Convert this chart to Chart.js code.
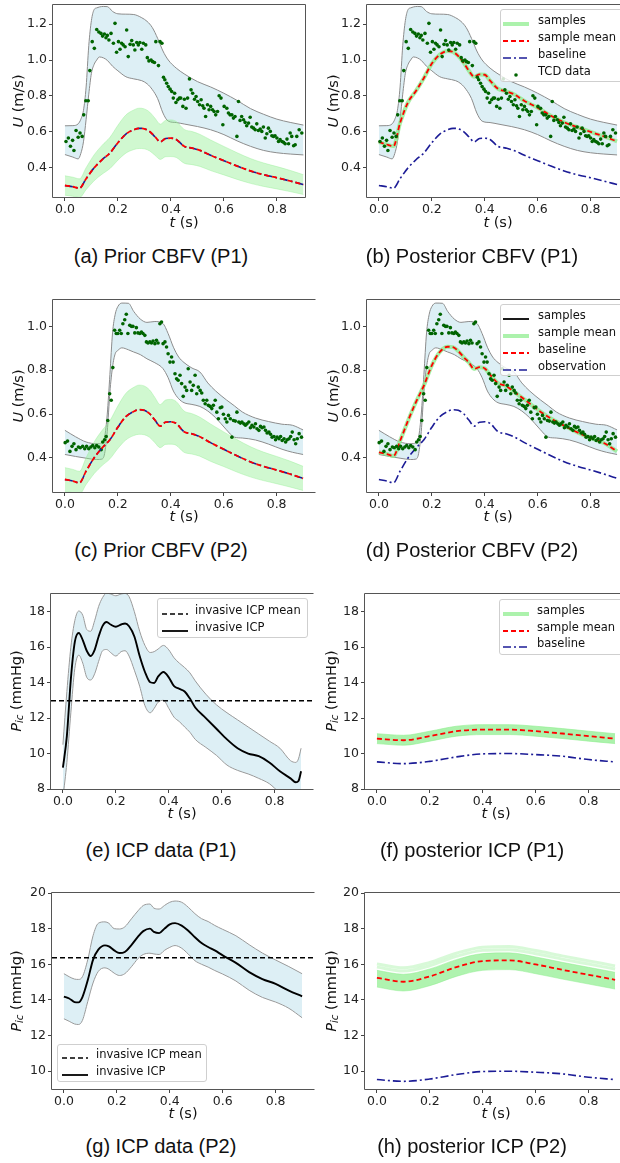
<!DOCTYPE html>
<html><head><meta charset="utf-8">
<script src="https://cdn.jsdelivr.net/npm/chart.js@4.4.1/dist/chart.umd.min.js"></script>
<style>
html,body{margin:0;padding:0;width:620px;height:1163px;overflow:hidden;background:#fff;}
canvas{position:absolute;}
.lab{position:absolute;font-family:"DejaVu Sans";font-size:14.5px;color:#111;white-space:nowrap;line-height:17px;}
.ylab{transform:translate(-50%,-50%) rotate(-90deg);}
.xlab{transform:translate(-50%,-50%);}
.cap{position:absolute;font-family:"Liberation Sans",Arial,sans-serif;font-size:20px;color:#111;white-space:nowrap;transform:translate(-50%,-50%);}
.leg{position:absolute;border:1px solid #cfcfcf;border-radius:3px;background:rgba(255,255,255,0.82);box-sizing:border-box;}
.lt{position:absolute;font-family:"DejaVu Sans";font-size:11.5px;color:#111;white-space:nowrap;line-height:14px;height:14px;}
.ls{position:absolute;}
sub{font-size:70%;vertical-align:-0.25em;}
</style></head><body>
<script>
// ---------------- DATA ----------------
const X_TICKS = [0, 0.2, 0.4, 0.6, 0.8];
const Y_TICKS_U1 = [0.4, 0.6, 0.8, 1.0, 1.2];
const Y_TICKS_U2 = [0.4, 0.6, 0.8, 1.0];
const Y_TICKS_P1 = [8, 10, 12, 14, 16, 18];
const Y_TICKS_P2 = [10, 12, 14, 16, 18, 20];

// CBFV curves (t in s, U in m/s)
const T_U = [0, 0.03, 0.055, 0.08, 0.11, 0.14, 0.17, 0.2, 0.23, 0.26, 0.28, 0.3, 0.32, 0.34, 0.36, 0.38, 0.4, 0.42, 0.45, 0.48, 0.51, 0.55, 0.6, 0.65, 0.7, 0.75, 0.8, 0.85, 0.9];
const BASE_U = [0.302,0.295,0.287,0.34,0.40,0.445,0.483,0.54,0.588,0.612,0.62,0.617,0.602,0.573,0.545,0.563,0.565,0.558,0.52,0.51,0.497,0.47,0.44,0.41,0.383,0.362,0.345,0.327,0.307];
const PRIOR_HI = [0.356,0.348,0.339,0.401,0.472,0.525,0.570,0.637,0.694,0.722,0.732,0.728,0.710,0.676,0.643,0.664,0.667,0.658,0.614,0.602,0.586,0.555,0.519,0.484,0.452,0.427,0.407,0.386,0.362];
const PRIOR_LO = [0.248,0.242,0.235,0.279,0.328,0.365,0.396,0.443,0.482,0.502,0.508,0.506,0.494,0.470,0.447,0.462,0.463,0.458,0.426,0.418,0.408,0.385,0.361,0.336,0.314,0.297,0.283,0.268,0.252];
const POST1_U = [0.544,0.530,0.521,0.65,0.765,0.828,0.90,0.98,1.03,1.05,1.045,1.022,0.985,0.94,0.907,0.92,0.918,0.885,0.84,0.826,0.81,0.772,0.735,0.69,0.654,0.626,0.6,0.575,0.547];
const POST2_U = [0.426,0.418,0.409,0.478,0.57,0.655,0.73,0.822,0.883,0.907,0.905,0.887,0.86,0.835,0.806,0.814,0.808,0.78,0.741,0.728,0.703,0.667,0.62,0.58,0.547,0.517,0.491,0.468,0.43];

// TCD data bands
const T_B1 = [0,0.03,0.05,0.06,0.07,0.08,0.09,0.1,0.11,0.12,0.13,0.145,0.16,0.18,0.2,0.23,0.26,0.29,0.31,0.33,0.35,0.37,0.39,0.42,0.45,0.5,0.55,0.6,0.65,0.7,0.75,0.8,0.85,0.9];
const B1_HI = [0.634,0.635,0.645,0.67,0.72,0.85,1.08,1.22,1.28,1.29,1.295,1.298,1.297,1.27,1.257,1.255,1.253,1.235,1.215,1.18,1.12,1.05,1.0,0.955,0.923,0.88,0.85,0.815,0.775,0.73,0.698,0.671,0.653,0.638];
const B1_LO = [0.474,0.46,0.45,0.48,0.545,0.67,0.81,0.926,0.975,1.0,1.017,1.012,0.998,0.965,0.94,0.907,0.895,0.885,0.868,0.835,0.785,0.705,0.66,0.652,0.644,0.63,0.612,0.585,0.55,0.52,0.497,0.484,0.477,0.472];
const T_B2 = [0,0.04,0.08,0.12,0.14,0.15,0.16,0.17,0.18,0.19,0.2,0.215,0.24,0.26,0.285,0.31,0.34,0.37,0.39,0.41,0.43,0.45,0.48,0.51,0.54,0.57,0.61,0.64,0.67,0.72,0.77,0.82,0.86,0.9];
const B2_HI = [0.526,0.497,0.473,0.465,0.47,0.495,0.6,0.78,0.97,1.055,1.09,1.106,1.105,1.068,1.033,1.018,1.022,1.013,0.967,0.905,0.86,0.835,0.81,0.792,0.742,0.705,0.665,0.638,0.61,0.582,0.566,0.554,0.549,0.528];
const B2_LO = [0.416,0.407,0.399,0.393,0.395,0.42,0.52,0.70,0.815,0.875,0.89,0.902,0.893,0.883,0.871,0.852,0.834,0.808,0.766,0.705,0.67,0.652,0.644,0.635,0.614,0.583,0.529,0.495,0.491,0.482,0.463,0.44,0.426,0.416];

// TCD measurements
const TCD1_T = [0.004,0.013,0.021,0.029,0.034,0.042,0.050,0.057,0.065,0.071,0.079,0.088,0.094,0.103,0.111,0.120,0.128,0.136,0.142,0.149,0.155,0.160,0.166,0.174,0.183,0.189,0.195,0.202,0.208,0.214,0.220,0.227,0.233,0.239,0.246,0.252,0.258,0.264,0.271,0.277,0.283,0.290,0.296,0.305,0.311,0.317,0.325,0.331,0.338,0.343,0.353,0.359,0.366,0.372,0.377,0.384,0.390,0.397,0.403,0.409,0.414,0.419,0.426,0.432,0.437,0.445,0.451,0.457,0.463,0.470,0.476,0.482,0.489,0.495,0.501,0.508,0.514,0.520,0.525,0.531,0.538,0.544,0.550,0.557,0.563,0.569,0.576,0.582,0.589,0.596,0.601,0.611,0.617,0.623,0.630,0.636,0.642,0.649,0.655,0.661,0.667,0.674,0.680,0.686,0.693,0.699,0.705,0.712,0.718,0.724,0.730,0.737,0.743,0.749,0.756,0.762,0.768,0.775,0.781,0.787,0.793,0.800,0.806,0.812,0.819,0.825,0.831,0.838,0.844,0.850,0.856,0.863,0.869,0.875,0.884,0.894];
const TCD1_U = [0.547,0.566,0.520,0.553,0.497,0.608,0.570,0.594,0.575,0.695,0.773,0.773,0.941,1.102,1.065,1.170,1.156,1.148,1.133,1.145,1.124,1.137,1.111,1.148,1.093,1.204,1.043,1.102,1.060,1.093,1.084,1.074,1.167,1.019,1.087,1.108,1.084,1.056,1.097,1.084,1.097,1.060,1.093,1.084,1.013,0.995,1.000,0.991,0.986,1.102,0.969,1.102,1.093,0.904,0.890,0.871,0.852,0.838,0.825,0.788,0.815,0.764,0.779,0.788,0.788,0.742,0.782,0.732,0.788,0.895,0.834,0.815,0.782,0.797,0.769,0.751,0.779,0.745,0.732,0.686,0.751,0.723,0.742,0.723,0.714,0.695,0.714,0.801,0.788,0.640,0.742,0.732,0.705,0.695,0.695,0.677,0.686,0.575,0.769,0.664,0.686,0.668,0.653,0.634,0.649,0.682,0.627,0.621,0.612,0.645,0.608,0.616,0.603,0.627,0.566,0.590,0.621,0.603,0.579,0.575,0.579,0.566,0.547,0.557,0.547,0.542,0.534,0.560,0.534,0.594,0.575,0.523,0.529,0.575,0.612,0.594];
const TCD2_T = [0.001,0.010,0.019,0.027,0.034,0.042,0.051,0.058,0.067,0.075,0.082,0.090,0.098,0.105,0.113,0.120,0.128,0.137,0.143,0.150,0.156,0.162,0.169,0.175,0.181,0.188,0.194,0.200,0.207,0.213,0.219,0.226,0.232,0.238,0.245,0.251,0.257,0.264,0.270,0.276,0.283,0.289,0.295,0.302,0.308,0.314,0.321,0.327,0.333,0.340,0.346,0.352,0.359,0.365,0.371,0.378,0.384,0.390,0.397,0.403,0.409,0.416,0.422,0.428,0.435,0.441,0.447,0.454,0.460,0.466,0.473,0.479,0.485,0.492,0.498,0.504,0.511,0.517,0.523,0.530,0.536,0.542,0.549,0.555,0.561,0.568,0.574,0.580,0.587,0.593,0.599,0.606,0.612,0.618,0.625,0.631,0.637,0.644,0.650,0.657,0.663,0.669,0.676,0.682,0.688,0.695,0.701,0.707,0.714,0.720,0.726,0.733,0.739,0.745,0.752,0.758,0.764,0.771,0.777,0.783,0.790,0.796,0.802,0.809,0.815,0.821,0.828,0.834,0.840,0.847,0.853,0.859,0.866,0.872,0.878,0.885,0.894];
const TCD2_U = [0.470,0.477,0.430,0.453,0.465,0.438,0.450,0.447,0.453,0.442,0.453,0.442,0.450,0.457,0.447,0.457,0.450,0.438,0.473,0.483,0.498,0.571,0.693,0.663,0.812,0.982,0.967,0.967,0.982,0.967,1.012,1.030,1.055,0.967,1.005,1.000,1.000,0.970,0.994,0.970,0.967,0.974,0.967,0.959,0.929,0.924,0.929,0.924,0.933,0.921,0.936,0.924,1.012,1.020,0.921,0.929,0.906,0.875,0.837,0.860,0.837,0.784,0.761,0.754,0.777,0.739,0.681,0.723,0.708,0.807,0.746,0.708,0.731,0.777,0.693,0.723,0.708,0.696,0.663,0.647,0.663,0.640,0.635,0.625,0.640,0.663,0.609,0.579,0.629,0.632,0.599,0.579,0.564,0.594,0.579,0.495,0.571,0.568,0.609,0.564,0.559,0.564,0.556,0.549,0.556,0.564,0.538,0.549,0.541,0.556,0.533,0.526,0.544,0.538,0.541,0.526,0.514,0.518,0.508,0.495,0.498,0.483,0.495,0.488,0.498,0.480,0.488,0.473,0.483,0.488,0.498,0.518,0.483,0.465,0.488,0.511,0.495];

// Invasive ICP (mmHg)
const T_P1 = [0,0.015,0.03,0.045,0.06,0.075,0.09,0.105,0.12,0.135,0.15,0.165,0.18,0.2,0.22,0.235,0.25,0.27,0.29,0.31,0.33,0.345,0.36,0.38,0.4,0.42,0.44,0.46,0.48,0.5,0.54,0.58,0.62,0.66,0.7,0.74,0.78,0.82,0.86,0.88,0.89,0.9];
const ICP1 = [9.2,11.0,14.2,16.3,16.8,16.4,15.8,15.5,15.85,16.6,17.2,17.42,17.28,17.15,17.28,17.34,17.18,16.6,15.5,14.6,14.02,13.98,14.35,14.6,14.3,13.8,13.65,13.5,13.1,12.6,12.0,11.4,10.8,10.3,10.0,9.85,9.5,9.0,8.6,8.38,8.45,9.0];
const ICP1_HI = [10.5,13.5,16.0,17.5,18.04,17.8,17.0,16.9,17.5,18.3,18.8,19.05,19.0,18.9,19.0,19.03,18.85,18.0,16.9,16.1,15.7,15.75,15.9,16.1,15.85,15.4,15.1,14.85,14.55,14.1,13.35,12.75,12.3,11.9,11.5,11.1,10.7,10.3,9.6,9.5,9.7,10.3];
const ICP1_LO = [7.5,9.5,12.3,14.8,15.55,15.1,14.3,14.15,14.5,15.2,15.8,15.87,15.7,15.5,15.75,15.8,15.5,14.7,13.8,12.7,12.3,12.55,12.9,13.0,12.55,12.05,11.8,11.5,11.2,10.8,10.35,9.9,9.35,9.05,8.85,8.6,8.3,7.8,7.6,7.5,7.5,7.5];
const ICP1_MEAN = 12.98;
const T_P2 = [0,0.02,0.04,0.055,0.07,0.09,0.11,0.13,0.155,0.17,0.19,0.21,0.23,0.255,0.28,0.3,0.325,0.34,0.36,0.38,0.4,0.42,0.445,0.47,0.495,0.52,0.545,0.57,0.6,0.65,0.7,0.75,0.8,0.85,0.9];
const ICP2 = [14.19,14.08,13.88,13.86,14.16,15.1,16.25,16.82,17.06,17.0,16.78,16.63,16.69,17.08,17.55,17.86,18.0,17.82,17.75,18.0,18.24,18.31,18.17,17.88,17.52,17.19,16.97,16.78,16.5,16.08,15.56,15.17,14.9,14.52,14.2];
const ICP2_HI = [15.47,15.3,15.17,15.15,15.3,16.25,17.6,18.3,18.38,18.3,18.0,17.98,18.1,18.55,19.0,19.3,19.38,19.15,19.1,19.3,19.48,19.55,19.48,19.2,18.84,18.56,18.4,18.18,17.96,17.6,17.1,16.63,16.24,15.87,15.47];
const ICP2_LO = [12.94,12.8,12.65,12.62,12.85,13.9,14.95,15.6,15.8,15.72,15.5,15.37,15.47,15.86,16.32,16.55,16.62,16.58,16.55,16.78,16.95,17.05,16.9,16.57,16.2,16.0,15.84,15.65,15.45,15.06,14.54,14.14,13.88,13.53,13.0];
const ICP2_MEAN = 16.36;

// Posterior ICP
const T_F = [0,0.1,0.2,0.3,0.4,0.5,0.6,0.7,0.8,0.9];
const BASE_P = [9.53,9.43,9.56,9.81,9.98,10.0,9.94,9.85,9.66,9.53];
const PIC1_MEAN = [10.84,10.75,10.98,11.26,11.35,11.35,11.26,11.13,10.98,10.84];
const PIC1_HI = [11.12,11.03,11.26,11.54,11.63,11.63,11.54,11.41,11.26,11.12];
const PIC1_LO = [10.56,10.47,10.70,10.98,11.07,11.07,10.98,10.85,10.70,10.56];
const PIC2_MEAN = [15.24,15.02,15.32,15.84,16.18,16.22,15.99,15.69,15.41,15.13];
const PIC2_HI = [15.66,15.44,15.74,16.26,16.6,16.64,16.41,16.11,15.83,15.55];
const PIC2_LO = [14.72,14.5,14.8,15.32,15.66,15.7,15.47,15.17,14.89,14.61];
const PIC2_SA = [16.02,15.8,16.1,16.62,16.96,17.0,16.77,16.47,16.19,15.91];
const PIC2_SB = [15.84,15.62,15.92,16.44,16.78,16.82,16.59,16.29,16.01,15.73];

// ---------------- STYLE ----------------
const BLUE = '#1c1c96', RED = '#ff0000', DG = '#006400';
const EDGE = '#8c8c8c', BAND = 'rgba(173,216,230,0.42)';
const LG = 'rgba(144,238,144,0.8)', LGF = 'rgba(144,238,144,0.42)';
const DASH = [5, 3], DASHDOT = [8, 3, 2, 3];
const XMIN = -0.045, XMAX = 0.945;

const P = (T, V) => T.map((t, i) => ({x: t, y: V[i]}));
const L = (T, V, o) => Object.assign({data: P(T, V), pointRadius: 0, borderWidth: 1.5, fill: false, cubicInterpolationMode: 'monotone'}, o);
const DOTS = (T, V, ord) => ({data: P(T, V), showLine: false, pointRadius: 1.8, pointBackgroundColor: DG, pointBorderWidth: 0, order: ord});
const bandPair = (T, LO, HI, edge, fillc, ord) => [
  L(T, LO, {borderColor: edge, borderWidth: 1, order: ord}),
  L(T, HI, {borderColor: edge, borderWidth: 1, fill: '-1', backgroundColor: fillc, order: ord})
];
const hline = (v) => ({data: [{x: XMIN, y: v}, {x: XMAX, y: v}], pointRadius: 0, borderColor: '#000', borderWidth: 1.5, borderDash: DASH, order: 2});

const spinePlugin = (right) => ({
  id: 'spines',
  afterDatasetsDraw(chart) {
    const {ctx, chartArea: a} = chart;
    ctx.save();
    ctx.strokeStyle = '#555'; ctx.lineWidth = 1;
    ctx.beginPath();
    ctx.moveTo(a.left - 0.5, a.bottom + 0.5); ctx.lineTo(a.left - 0.5, a.top - 0.5); ctx.lineTo(a.right + 0.5, a.top - 0.5);
    if (right) ctx.lineTo(a.right + 0.5, a.bottom + 0.5); else ctx.moveTo(a.right + 0.5, a.bottom + 0.5);
    ctx.lineTo(a.left - 0.5, a.bottom + 0.5);
    ctx.stroke();
    ctx.restore();
  }
});

function panel(p) {
  const PADT = 12, PADR = 12, XH = 32;
  const cv = document.createElement('canvas');
  const cl = p.col, ct = p.top - PADT;
  const w = p.right + PADR - cl, h = p.bottom + XH - ct;
  cv.width = w; cv.height = h;
  cv.style.left = cl + 'px'; cv.style.top = ct + 'px'; cv.style.width = w + 'px'; cv.style.height = h + 'px';
  document.body.appendChild(cv);
  const tickFont = {family: 'DejaVu Sans', size: 12.5};
  const grid = {display: true, drawOnChartArea: false, drawTicks: true, tickLength: 4, color: '#444', lineWidth: 1};
  new Chart(cv.getContext('2d'), {
    type: 'line',
    data: {datasets: p.datasets},
    options: {
      responsive: false, animation: false, devicePixelRatio: 1, events: [],
      layout: {padding: {left: 0, top: PADT, right: PADR, bottom: 0}},
      plugins: {legend: {display: false}, tooltip: {enabled: false}},
      scales: {
        x: {type: 'linear', min: p.xmin, max: p.xmax,
            afterFit: s => { s.height = XH; },
            afterBuildTicks: s => { s.ticks = X_TICKS.map(v => ({value: v})); },
            ticks: {callback: v => v.toFixed(1), font: tickFont, color: '#222', padding: 1, maxRotation: 0, autoSkip: false},
            grid: grid, border: {display: false}},
        y: {type: 'linear', min: p.ymin, max: p.ymax,
            afterFit: s => { s.width = p.left - cl; },
            afterBuildTicks: s => { s.ticks = p.yticks.map(v => ({value: v})); },
            ticks: {callback: p.yfmt, font: tickFont, color: '#222', padding: 2, autoSkip: false},
            grid: grid, border: {display: false}}
      }
    },
    plugins: [spinePlugin(!!p.rightSpine)]
  });
}

function html(s) { document.body.insertAdjacentHTML('beforeend', s); }
function svgSample(kind) {
  const W = 26;
  const ln = (c, w, d) => `<svg width="${W}" height="10"><line x1="0" y1="5" x2="${W}" y2="5" stroke="${c}" stroke-width="${w}" ${d ? `stroke-dasharray="${d}"` : ''}/></svg>`;
  if (kind === 'lg') return ln('rgba(144,238,144,0.75)', 4);
  if (kind === 'rd') return ln(RED, 1.8, '5,3');
  if (kind === 'bd') return ln(BLUE, 1.6, '8,3,2,3');
  if (kind === 'k') return ln('#000', 1.8);
  if (kind === 'kd') return ln('#000', 1.5, '5,3');
  return `<svg width="${W}" height="10"><circle cx="${W/2}" cy="5" r="1.8" fill="${DG}"/></svg>`;
}
function legend(box, x0, tx, rows) {
  html(`<div class="leg" style="left:${box[0]}px;top:${box[1]}px;width:${box[2]}px;height:${box[3]}px"></div>`);
  rows.forEach(([y, kind, label]) => {
    html(`<div class="ls" style="left:${x0}px;top:${y - 5}px">${svgSample(kind)}</div>`);
    html(`<div class="lt" style="left:${tx}px;top:${y - 7.5}px">${label}</div>`);
  });
}

const f1 = v => v.toFixed(1), f0 = v => String(v);
const ROW = [{top: 5, bottom: 197, ymin: 0.238, ymax: 1.306, yt: Y_TICKS_U1, fmt: f1},
             {top: 300, bottom: 492, ymin: 0.245, ymax: 1.12, yt: Y_TICKS_U2, fmt: f1},
             {top: 594, bottom: 789, ymin: 8, ymax: 19, yt: Y_TICKS_P1, fmt: f0},
             {top: 893, bottom: 1089, ymin: 9, ymax: 20, yt: Y_TICKS_P2, fmt: f0}];
function mk(r, col, left, right, xmax, ds, rs) {
  const R = ROW[r];
  panel({col, left, right, top: R.top, bottom: R.bottom, xmin: XMIN, xmax, ymin: R.ymin, ymax: R.ymax, yticks: R.yt, yfmt: R.fmt, datasets: ds, rightSpine: rs});
}

// (a) Prior CBFV (P1)
mk(0, 0, 53, 305, 0.906, [
  ...bandPair(T_B1, B1_LO, B1_HI, EDGE, BAND, 10),
  ...bandPair(T_U, PRIOR_LO, PRIOR_HI, 'rgba(144,238,144,0.4)', LGF, 8),
  DOTS(TCD1_T, TCD1_U, 5),
  L(T_U, BASE_U, {borderColor: BLUE, borderDash: DASHDOT, borderWidth: 1.6, order: 3}),
  L(T_U, BASE_U, {borderColor: RED, borderDash: DASH, borderWidth: 1.8, order: 2})
], true);
// (b) Posterior CBFV (P1)
mk(0, 310, 367, 629, XMAX, [
  ...bandPair(T_B1, B1_LO, B1_HI, EDGE, BAND, 10),
  L(T_U, POST1_U, {borderColor: LG, borderWidth: 4, order: 5}),
  L(T_U, BASE_U, {borderColor: BLUE, borderDash: DASHDOT, borderWidth: 1.6, order: 4}),
  L(T_U, POST1_U, {borderColor: RED, borderDash: DASH, borderWidth: 1.8, order: 3}),
  DOTS(TCD1_T, TCD1_U, 1)
], false);
// (c) Prior CBFV (P2)
mk(1, 0, 53, 315, XMAX, [
  ...bandPair(T_B2, B2_LO, B2_HI, EDGE, BAND, 10),
  ...bandPair(T_U, PRIOR_LO, PRIOR_HI, 'rgba(144,238,144,0.4)', LGF, 8),
  DOTS(TCD2_T, TCD2_U, 5),
  L(T_U, BASE_U, {borderColor: BLUE, borderDash: DASHDOT, borderWidth: 1.6, order: 3}),
  L(T_U, BASE_U, {borderColor: RED, borderDash: DASH, borderWidth: 1.8, order: 2})
], false);
// (d) Posterior CBFV (P2)
mk(1, 310, 367, 629, XMAX, [
  ...bandPair(T_B2, B2_LO, B2_HI, EDGE, BAND, 10),
  L(T_U, POST2_U, {borderColor: LG, borderWidth: 4, order: 5}),
  L(T_U, BASE_U, {borderColor: BLUE, borderDash: DASHDOT, borderWidth: 1.6, order: 4}),
  L(T_U, POST2_U, {borderColor: RED, borderDash: DASH, borderWidth: 1.8, order: 3}),
  DOTS(TCD2_T, TCD2_U, 1)
], false);
// (e) ICP data (P1)
mk(2, 0, 51, 313, XMAX, [
  ...bandPair(T_P1, ICP1_LO, ICP1_HI, '#9a9a9a', BAND, 10),
  hline(ICP1_MEAN),
  L(T_P1, ICP1, {borderColor: '#000', borderWidth: 1.9, order: 1})
], false);
// (f) posterior ICP (P1)
mk(2, 310, 365, 627, XMAX, [
  ...bandPair(T_F, PIC1_LO, PIC1_HI, 'rgba(144,238,144,0.6)', 'rgba(144,238,144,0.75)', 10),
  L(T_F, PIC1_MEAN, {borderColor: RED, borderDash: DASH, borderWidth: 1.8, order: 2}),
  L(T_F, BASE_P, {borderColor: BLUE, borderDash: DASHDOT, borderWidth: 1.6, order: 3})
], false);
// (g) ICP data (P2)
mk(3, 0, 52, 314, XMAX, [
  ...bandPair(T_P2, ICP2_LO, ICP2_HI, '#9a9a9a', BAND, 10),
  hline(ICP2_MEAN),
  L(T_P2, ICP2, {borderColor: '#000', borderWidth: 1.9, order: 1})
], false);
// (h) posterior ICP (P2)
mk(3, 310, 365, 627, XMAX, [
  L(T_F, PIC2_SA, {borderColor: 'rgba(144,238,144,0.35)', borderWidth: 3, order: 12}),
  L(T_F, PIC2_SB, {borderColor: 'rgba(144,238,144,0.35)', borderWidth: 3, order: 12}),
  ...bandPair(T_F, PIC2_LO, PIC2_HI, 'rgba(144,238,144,0.5)', 'rgba(144,238,144,0.72)', 10),
  L(T_F, PIC2_MEAN, {borderColor: RED, borderDash: DASH, borderWidth: 1.8, order: 2}),
  L(T_F, BASE_P, {borderColor: BLUE, borderDash: DASHDOT, borderWidth: 1.6, order: 3})
], false);

// axis labels
const YU = '<i>U</i> (m/s)', YP = '<i>P</i><sub><i>ic</i></sub> (mmHg)', XT = '<i>t</i> (s)';
const rowsY = [[101, 222], [396, 516], [691, 813], [991, 1113]];
const xlabC = [[184, 498], [184, 498], [182, 496], [183, 496]];
rowsY.forEach(([yc, xy], i) => {
  const yl = i < 2 ? YU : YP;
  html(`<div class="lab ylab" style="left:18px;top:${yc}px">${yl}</div>`);
  html(`<div class="lab ylab" style="left:333px;top:${yc}px">${yl}</div>`);
  html(`<div class="lab xlab" style="left:${xlabC[i][0]}px;top:${xy}px">${XT}</div>`);
  html(`<div class="lab xlab" style="left:${xlabC[i][1]}px;top:${xy}px">${XT}</div>`);
});

// legends
legend([500, 9, 130, 73], 503, 538, [[20, 'lg', 'samples'], [37, 'rd', 'sample mean'], [54, 'bd', 'baseline'], [71, 'dot', 'TCD data']]);
legend([500, 304, 130, 72], 503, 538, [[315, 'k', 'samples'], [332, 'lg', 'sample mean'], [349, 'rd', 'baseline'], [366, 'bd', 'observation']]);
legend([157, 598, 151, 40], 162, 195, [[610, 'kd', 'invasive ICP mean'], [627, 'k', 'invasive ICP']]);
legend([499, 599, 130, 56], 503, 537, [[610, 'lg', 'samples'], [627, 'rd', 'sample mean'], [643, 'bd', 'baseline']]);
legend([57, 1044, 150, 38], 62, 96, [[1054, 'kd', 'invasive ICP mean'], [1071, 'k', 'invasive ICP']]);

// captions
const CAPS = [['(a) Prior CBFV (P1)', '(b) Posterior CBFV (P1)'], ['(c) Prior CBFV (P2)', '(d) Posterior CBFV (P2)'],
              ['(e) ICP data (P1)', '(f) posterior ICP (P1)'], ['(g) ICP data (P2)', '(h) posterior ICP (P2)']];
const capY = [256, 550, 850, 1146];
CAPS.forEach((pair, i) => {
  html(`<div class="cap" style="left:161px;top:${capY[i]}px">${pair[0]}</div>`);
  html(`<div class="cap" style="left:472px;top:${capY[i]}px">${pair[1]}</div>`);
});
</script>
</body></html>
